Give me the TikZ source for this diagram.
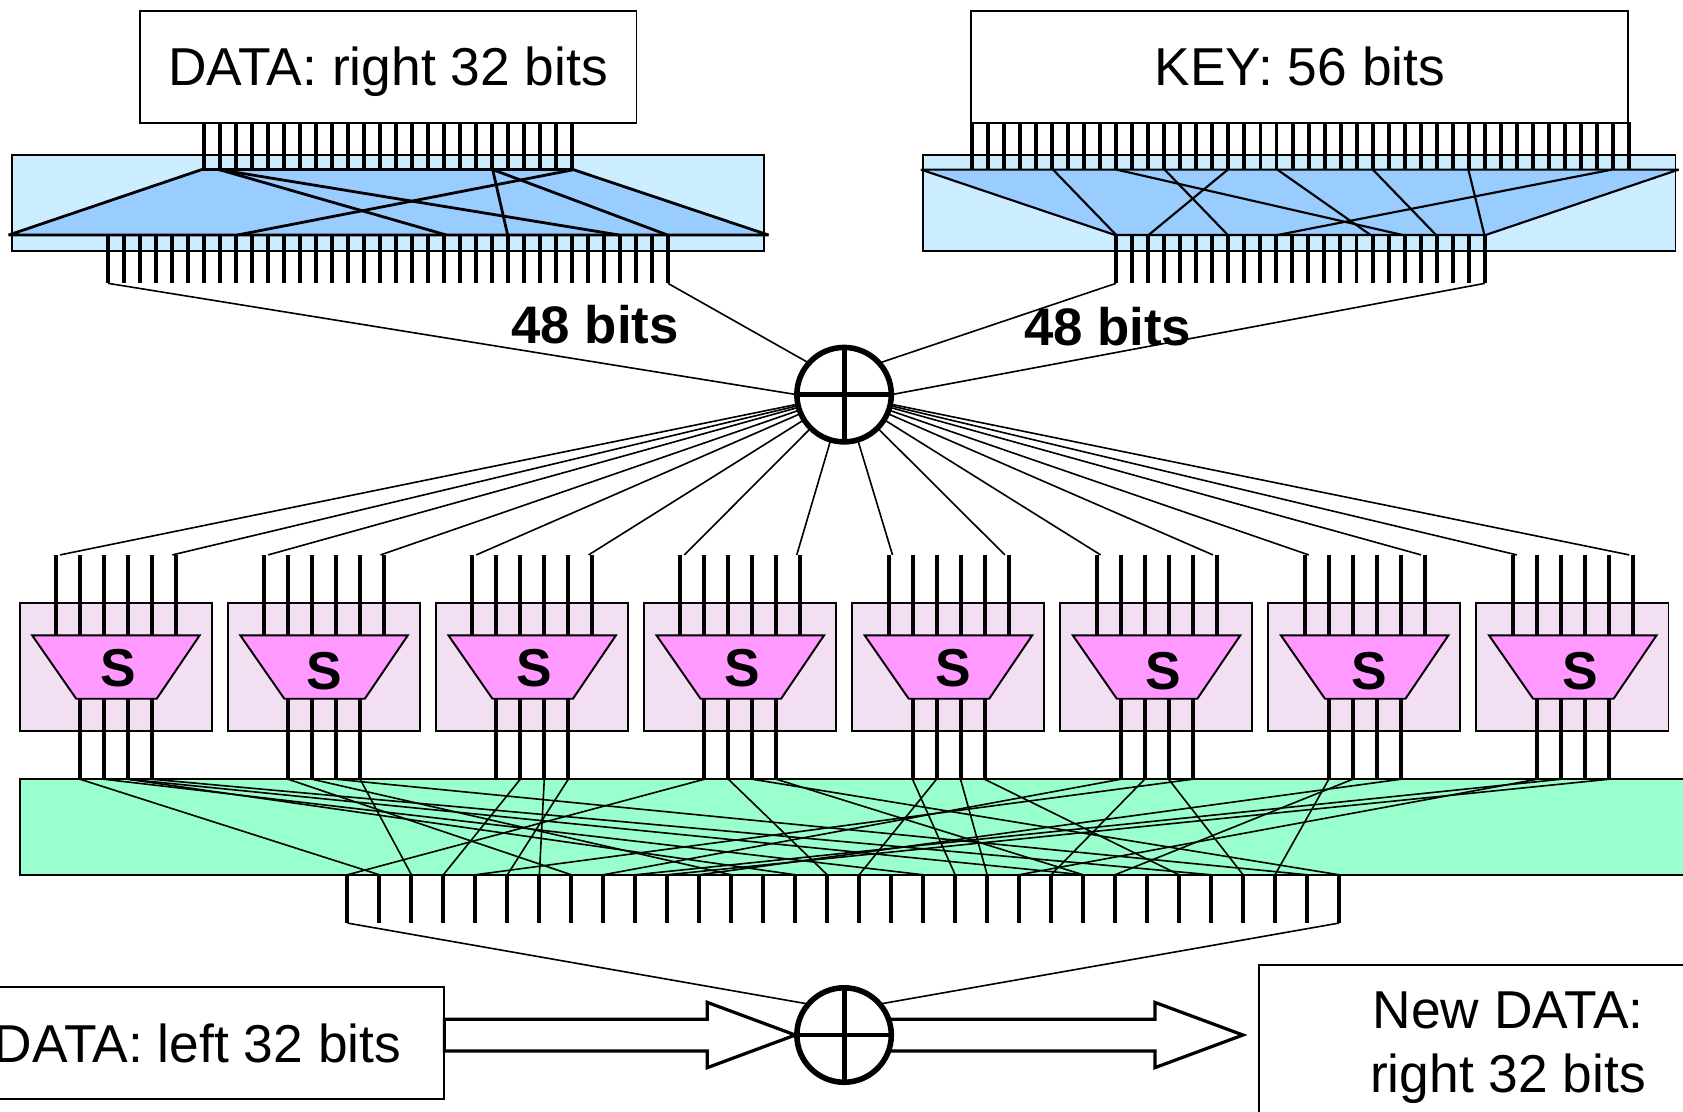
\documentclass[tikz,border=0pt]{standalone}
\usepackage{fontspec}
\setmainfont{Liberation Sans}
\usetikzlibrary{calc,positioning}
\definecolor{palesky}{HTML}{CCECFF}
\definecolor{midsky}{HTML}{99CCFF}
\definecolor{palelilac}{HTML}{F2E0F2}
\definecolor{pink}{HTML}{FF99FF}
\definecolor{mint}{HTML}{99FFCC}
\newcommand{\labelfont}{\fontsize{24.85}{30}\selectfont}
\newcommand{\boldlabelfont}{\fontsize{24.6}{30}\selectfont\bfseries}
\newcommand{\fatarrow}[2]{\draw[fatline] let \p1=(#1),\p2=(#2) in (\x1,\y1+7.4pt) -- (\x2-41pt,\y1+7.4pt) -- (\x2-41pt,\y1+15.2pt) -- (\x2,\y1) -- (\x2-41pt,\y1-15.2pt) -- (\x2-41pt,\y1-7.4pt) -- (\x1,\y1-7.4pt) -- cycle;}
\tikzset{
  bitbox/.style={draw,line width=0.9pt,fill=white,outer sep=0pt,inner sep=0pt,font=\labelfont,align=center},
  oneline/.style={text height=17.8pt,text depth=0pt},
  band/.style={draw,line width=0.9pt,outer sep=0pt,inner sep=0pt},
  wire/.style={line width=1.85pt},
  fanline/.style={line width=0.75pt},
  crossline/.style={line width=1pt},
  boldcross/.style={line width=1.3pt},
  fatline/.style={draw,line width=1.5pt,fill=white,line join=miter},
  xorgate/.style={circle,draw,line width=2.6pt,fill=white,minimum size=44pt,inner sep=0pt,outer sep=0pt,
    path picture={\draw[line width=2.3pt] (path picture bounding box.north)--(path picture bounding box.south) (path picture bounding box.west)--(path picture bounding box.east);}},
  sboxcore/.style={draw,line width=0.9pt,fill=pink,line join=miter},
  sletter/.style={font=\labelfont\bfseries,inner sep=0pt}
}
\begin{document}
\begin{tikzpicture}[x=0.5pt,y=-0.5pt]
\useasboundingbox (0,0) rectangle (1568,1036);
\node[bitbox,oneline,minimum width=231.5pt,minimum height=52pt] (datar) at (361.5,62.3) {DATA: right 32 bits};
\node[bitbox,oneline,minimum width=306pt,minimum height=52pt] (keybox) at (1211,62.3) {KEY: 56 bits};
\node[band,fill=palesky,minimum width=350.5pt,minimum height=45pt] (expbox) at (361.5,189) {};
\node[band,fill=palesky,minimum width=350.5pt,minimum height=45pt] (pcbox) at (1210.5,189) {};
\draw[boldcross,fill=midsky,line join=bevel] (188,158)--(534,158)--(716,219)--(8,219)--cycle;
\draw[crossline,fill=midsky,line join=bevel] (858,158)--(1564,158)--(1384,219)--(1039,219)--cycle;
\foreach \a/\c in {204/416,204/577,459/473,459/622,535/221} \draw[boldcross] (\a,158)--(\c,219);
\foreach \a/\c in {981/1040,1040/1307,1085/1144,1144/1070,1190/1277,1279/1338,1368/1383,1502/1190} \draw[crossline] (\a,158)--(\c,219);
\foreach \i in {0,...,23} \draw[wire] ({190+14.92*\i},114)--++(0,44);
\foreach \i in {0,...,41} \draw[wire] ({905.6+14.93*\i},114)--++(0,44);
\foreach \i in {0,...,35} \draw[wire] ({100.8+14.9*\i},219)--++(0,45);
\foreach \i in {0,...,23} \draw[wire] ({1039.7+14.94*\i},219)--++(0,45);
\coordinate (ea) at (100.8,264);
\coordinate (eb) at (622.3,264);
\coordinate (pa) at (1039.7,264);
\coordinate (pb) at (1383.3,264);
\node[xorgate] (xortop) at (786.4,367.7) {};
\draw[fanline] (ea)--(xortop.west);
\draw[fanline] (eb)--(xortop.138);
\draw[fanline] (pa)--(xortop.42);
\draw[fanline] (pb)--(xortop.east);
\node[font=\boldlabelfont] (bitsl) at (554.5,302.5) {48 bits};
\node[font=\boldlabelfont] (bitsr) at (1032,304.5) {48 bits};
\node[band,fill=palelilac,minimum width=89.5pt,minimum height=59.5pt] (sbox1) at (107.7,621.5) {};
\foreach \b [count=\prevb from 1] in {2,...,8} \node[band,fill=palelilac,minimum width=89.5pt,minimum height=59.5pt,right=7.45pt of sbox\prevb] (sbox\b) {};
\node[band,fill=mint,minimum width=791pt,minimum height=44.5pt] (pbox) at (809.3,770.5) {};
\foreach \b/\bx in {1/18,2/211.9,3/405.8,4/599.7,5/793.6,6/987.5,7/1181.4,8/1375.3} {
  \foreach \k in {0,...,5} \draw[wire] ({\bx+34.2+22.36*\k},517)--({\bx+34.2+22.36*\k},592);
  \foreach \k in {1,...,4} {
    \draw[wire] ({\bx+34.2+22.36*\k},651)--({\bx+34.2+22.36*\k},726);
    \coordinate (t\b\k) at ({\bx+34.2+22.36*\k},726);
  }
  \coordinate (ina\b) at ({\bx+37.9},517);
  \coordinate (inb\b) at ({\bx+142.6},517);
  \draw[fanline] (ina\b)--(xortop);
  \draw[fanline] (inb\b)--(xortop);
  \draw[sboxcore] ({\bx+12},592)--({\bx+168},592)--({\bx+128},651)--({\bx+53},651)--cycle;
}
\foreach \b/\sx/\sy in {1/110/622.6,2/302.3/625,3/498/622.6,4/692/622.6,5/888/622.6,6/1084/625,7/1276/625,8/1472/625} \node[sletter] (sname\b) at (\sx,\sy) {S};
\foreach \n in {1,...,32} {
  \coordinate (c\n) at ({323.7+29.8*(\n-1)},815);
  \draw[wire] (c\n)--++(0,45);
}
\foreach \p/\q in {11/2,12/19,13/15,13/24,14/28,21/8,22/13,23/31,24/3,32/4,33/7,34/6,41/1,42/16,43/32,44/24,51/20,52/17,53/21,54/27,61/9,62/23,63/29,64/5,71/30,72/25,74/12,81/22,82/10,84/11} \draw[fanline] (t\p)--(c\q);
\coordinate (ca) at (323.7,860);
\coordinate (cb) at (1247.5,860);
\node[bitbox,oneline,minimum width=212pt,minimum height=52.5pt] (datal) at (202,971.8) {DATA: left 32 bits\hspace*{18pt}};
\node[bitbox,minimum width=232pt,minimum height=77pt] (newdata) at (1405,976) {New DATA:\\right 32 bits};
\coordinate (tipl) at (741,964.3);
\coordinate (tipr) at (1158,964.3);
\coordinate (taill) at (414,964.3);
\coordinate (tailr) at (786,964.3);
\fatarrow{taill}{tipl}
\fatarrow{tailr}{tipr}
\node[xorgate] (xorbot) at (786.4,964.3) {};
\draw[fanline] (ca)--(xorbot.139);
\draw[fanline] (cb)--(xorbot.41);
\end{tikzpicture}
\end{document}
